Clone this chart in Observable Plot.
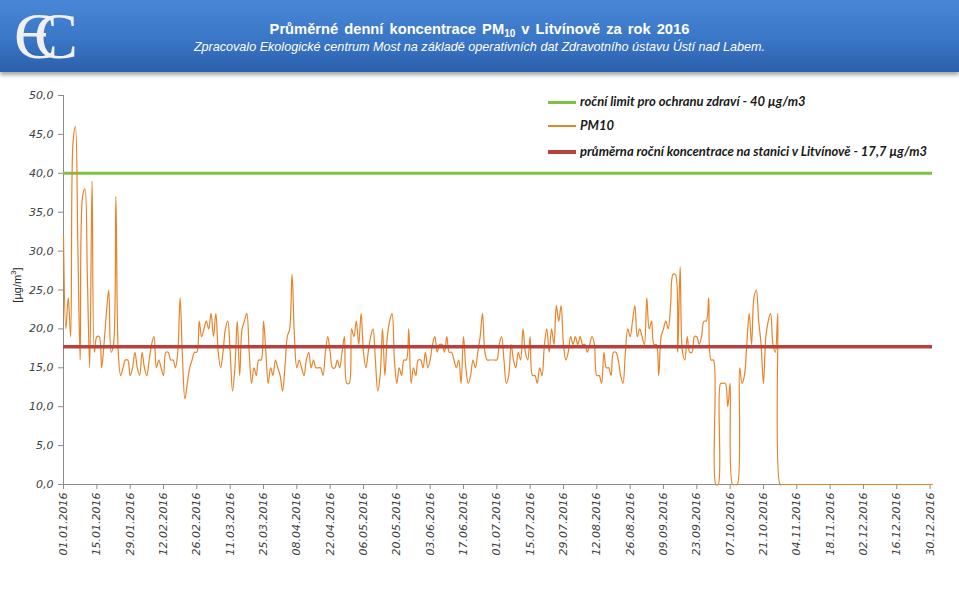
<!DOCTYPE html>
<html>
<head>
<meta charset="utf-8">
<script src="https://cdn.jsdelivr.net/npm/d3@7"></script>
<script src="https://cdn.jsdelivr.net/npm/@observablehq/plot@0.6"></script>
<style>
  html, body { margin: 0; padding: 0; background: #ffffff; }
  #wrap { position: relative; width: 959px; height: 591px; overflow: hidden; background: #fff; }
  #header { position: absolute; left: 0; top: 0; width: 959px; height: 72px;
    background: linear-gradient(to bottom, #4a87d6 0%, #3a76c6 55%, #2b60ab 100%);
    box-shadow: 0 3px 4px rgba(0,0,0,0.35); }
  #logo { position: absolute; left: 0; top: 0; }
  #title { position: absolute; left: 0; width: 959px; top: 21px; text-align: center; color: #fff;
    font-family: "Liberation Sans", Arial, sans-serif; font-weight: bold; font-size: 14.7px; word-spacing: 2px; }
  #title sub { font-size: 10px; vertical-align: -3px; line-height: 0; }
  #subtitle { position: absolute; left: 0; width: 959px; top: 40px; text-align: center; color: #fff;
    font-family: "Liberation Sans", Arial, sans-serif; font-style: italic; font-size: 12.6px; }
  #chart { position: absolute; left: 0; top: 75px; }
  #ylabel { position: absolute; left: 16px; top: 285px; transform: translate(-50%, -50%) rotate(-90deg);
    font-family: "Liberation Sans", Arial, sans-serif; font-size: 11px; color: #262626; white-space: nowrap; }
  .leg { position: absolute; left: 548px; height: 14px; }
  .leg .sw { position: absolute; left: 0; width: 28px; }
  .leg .lt { position: absolute; left: 32px; top: -9px; white-space: nowrap; font-family: Lato, "Open Sans", sans-serif;
    font-weight: bold; font-style: italic; font-size: 13px; color: #1a1a1a; }
</style>
</head>
<body>
<div id="wrap">
  <div id="header">
    <svg id="logo" width="100" height="72">
      <rect x="22" y="33" width="24" height="3.5" fill="#f0f0f0"></rect>
      <text x="14" y="58" font-family="Liberation Serif, DejaVu Serif, serif" font-size="66" letter-spacing="-24" fill="#f0f0f0">CC</text>
    </svg>
    <div id="title">Průměrné denní koncentrace PM<sub>10</sub> v Litvínově za rok 2016</div>
    <div id="subtitle">Zpracovalo Ekologické centrum Most na základě operativních dat Zdravotního ústavu Ústí nad Labem.</div>
  </div>
  <div id="chart"></div>
  <div id="ylabel">[µg/m<sup style="font-size:8px">3</sup>]</div>
  <div id="legend"></div>
</div>
<script>
// ---- data ----
const startDate = "2016-01-01";
const endDate = "2016-12-31";
const pm10 = [
  32,20,24,19,44,46,31,16,37,38,
  27,15,39,17,19,19,15,18,22,25,
  17,18,37,17,14,15,16,16,14,15,
  17,15,14,17,15,14,16,18,19,15,
  16,15,14,17,17,16,16,15,17,24,
  16,11,13,15,16,17,17,21,19,20,
  21,20,22,19,22,17,15,17,20,21,
  17,12,15,21,14,20,21,22,17,13,
  15,14,16,16,21,17,13,15,14,16,
  15,14,12,15,19,20,27,19,15,16,
  15,14,16,17,15,16,15,15,15,14,
  17,19,17,15,15,16,15,17,19,13,
  13,20,19,21,18,22,17,15,17,19,
  20,16,12,14,20,14,19,21,22,16,
  13,15,14,16,16,20,13,15,14,16,
  16,15,17,15,16,18,19,17,18,18,
  17,19,17,17,16,15,16,13,19,15,
  13,14,16,15,17,19,22,17,16,16,
  16,16,16,18,19,16,13,14,18,16,
  15,17,16,20,17,16,19,14,14,13,
  15,14,18,20,17,20,18,23,21,23,
  18,16,17,19,18,19,18,19,18,18,
  17,18,19,18,14,14,13,17,15,15,
  14,17,17,16,14,13,17,20,19,21,
  23,19,20,19,18,24,20,21,18,18,
  14,19,20,21,20,23,27,27,17,28,
  17,16,19,17,17,19,19,18,19,21,
  21,24,16,16,0,0,13,13,13,10,
  13,0,0,0,15,13,14,18,22,18,
  24,25,21,18,13,19,21,22,18,17,
  22,0,0,0,0,0,0,0,0,0,
  0,0,0,0,0,0,0,0,0,0,
  0,0,0,0,0,0,0,0,0,0,
  0,0,0,0,0,0,0,0,0,0,
  0,0,0,0,0,0,0,0,0,0,
  0,0,0,0,0,0,0,0,0,0,
  0,0,0,0,0,0
];
const limitValue = 40;
const meanValue = 17.7;
const yTicks = [0, 5, 10, 15, 20, 25, 30, 35, 40, 45, 50];
const tickLabels = ["01.01.2016","15.01.2016","29.01.2016","12.02.2016","26.02.2016","11.03.2016","25.03.2016",
  "08.04.2016","22.04.2016","06.05.2016","20.05.2016","03.06.2016","17.06.2016","01.07.2016","15.07.2016",
  "29.07.2016","12.08.2016","26.08.2016","09.09.2016","23.09.2016","07.10.2016","21.10.2016","04.11.2016",
  "18.11.2016","02.12.2016","16.12.2016","30.12.2016"];
const legendLabels = ["roční limit pro ochranu zdraví - 40 µg/m3", "PM10",
  "průměrna roční koncentrace na stanici v Litvínově - 17,7 µg/m3"];
const colors = { limit: "#7dc242", pm10: "#e8832a", mean: "#b8413d" };

// ---- build ----
const t0 = new Date(startDate + "T00:00:00Z");
const t1 = new Date(endDate + "T00:00:00Z");
const data = pm10.map((v, i) => ({ date: new Date(t0.getTime() + i * 864e5), value: v }));
const parseLabel = s => { const [d, m, y] = s.split("."); return new Date(Date.UTC(+y, +m - 1, +d)); };
const tickDates = tickLabels.map(parseLabel);
const labelMap = new Map(tickDates.map((d, i) => [+d, tickLabels[i]]));
const fmt = v => v.toFixed(1).replace(".", ",");

const chart = Plot.plot({
  width: 959, height: 516,
  marginLeft: 63, marginRight: 27, marginTop: 20, marginBottom: 107,
  style: { fontFamily: "DejaVu Sans, Verdana, sans-serif", fontSize: "11px", fontStyle: "italic", background: "transparent", color: "#404040" },
  x: { type: "utc", domain: [t0, t1] },
  y: { domain: [0, 50] },
  marks: [
    Plot.ruleY([0], { stroke: "#8c8c8c" }),
    Plot.ruleX([t0], { y1: 0, y2: 50, stroke: "#8c8c8c" }),
    Plot.axisY({ ticks: yTicks, tickFormat: fmt, tickSize: 5, tickPadding: 5, label: null, stroke: "#8c8c8c", fill: "#404040" }),
    Plot.axisX({ ticks: tickDates, tickFormat: d => labelMap.get(+d), tickRotate: -90, tickSize: 5, tickPadding: 3, label: null, stroke: "#8c8c8c", fill: "#404040" }),
    Plot.ruleY([limitValue], { stroke: colors.limit, strokeWidth: 3 }),
    Plot.line(data, { x: "date", y: "value", stroke: colors.pm10, strokeWidth: 1.2, curve: "catmull-rom" }),
    Plot.ruleY([meanValue], { stroke: colors.mean, strokeWidth: 3.5 })
  ]
});
document.getElementById("chart").appendChild(chart);

// ---- legend ----
const legend = document.getElementById("legend");
const legItems = [
  { y: 102, color: colors.limit, w: 3, label: legendLabels[0] },
  { y: 126, color: colors.pm10, w: 1.2, label: legendLabels[1] },
  { y: 152, color: colors.mean, w: 3.5, label: legendLabels[2] }
];
legItems.forEach(it => {
  const row = document.createElement("div");
  row.className = "leg";
  row.style.top = it.y + "px";
  const sw = document.createElement("div");
  sw.className = "sw";
  sw.style.height = it.w + "px";
  sw.style.top = (-it.w / 2) + "px";
  sw.style.background = it.color;
  const lt = document.createElement("div");
  lt.className = "lt";
  lt.textContent = it.label;
  row.appendChild(sw); row.appendChild(lt);
  legend.appendChild(row);
});
</script>
</body>
</html>
